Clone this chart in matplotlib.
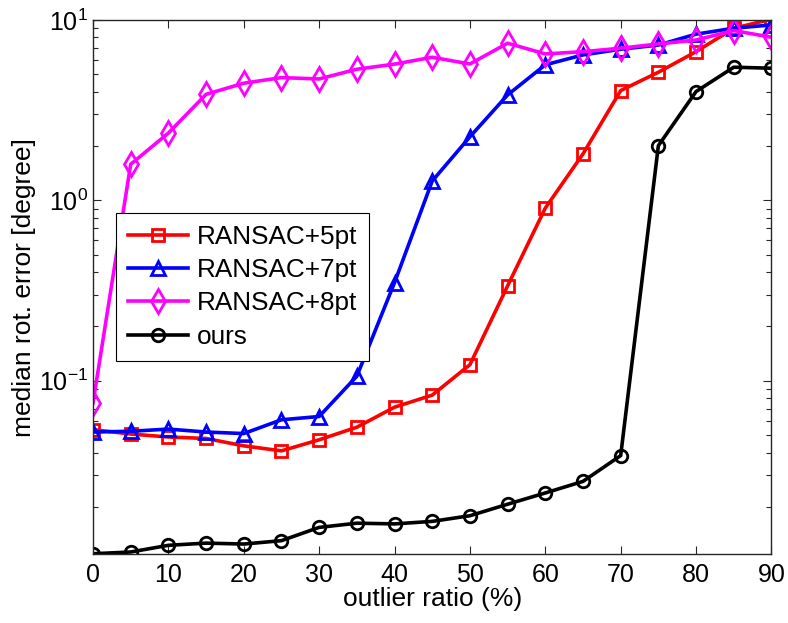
import matplotlib
matplotlib.use('Agg')
import matplotlib.pyplot as plt

plt.rcParams['font.family'] = ['Liberation Sans', 'DejaVu Sans']
plt.rcParams['mathtext.default'] = 'regular'

# outlier ratio (%)
ratio = [0, 5, 10, 15, 20, 25, 30, 35, 40, 45, 50, 55, 60, 65, 70, 75, 80, 85, 90]

# median rotation error [degree]
ransac5 = [0.0536, 0.0507, 0.0488, 0.0479, 0.0436, 0.0409, 0.0471, 0.0553, 0.0714, 0.0833,
           0.1228, 0.336, 0.906, 1.81, 4.06, 5.13, 6.67, 8.99, 10.1]
ransac7 = [0.052, 0.0525, 0.054, 0.052, 0.051, 0.0608, 0.0634, 0.106, 0.35, 1.28,
           2.25, 3.84, 5.64, 6.40, 6.88, 7.26, 8.34, 9.0, 9.38]
ransac8 = [0.0752, 1.585, 2.36, 3.87, 4.46, 4.79, 4.71, 5.33, 5.69, 6.21,
           5.70, 7.43, 6.48, 6.67, 6.97, 7.36, 7.74, 8.73, 8.02]
ours = [0.0110, 0.01125, 0.01225, 0.0126, 0.01245, 0.0130, 0.0154, 0.01625, 0.0161, 0.01663,
        0.01787, 0.0207, 0.0239, 0.0277, 0.0385, 2.01, 4.01, 5.47, 5.40]

fig = plt.figure(figsize=(7.88, 6.23), dpi=100)
ax = fig.add_axes([0.118, 0.110, 0.861, 0.858])

lw = 2.6
ax.plot(ratio, ransac5, '-s', color='red', lw=lw, ms=8, mew=2, mfc='none', label='RANSAC+5pt')
ax.plot(ratio, ransac7, '-^', color='blue', lw=lw, ms=10, mew=2, mfc='none', label='RANSAC+7pt')
ax.plot(ratio, ransac8, '-d', color='magenta', lw=lw, ms=12, mew=2, mfc='none', label='RANSAC+8pt')
ax.plot(ratio, ours, '-o', color='black', lw=lw, ms=9, mew=2, mfc='none', label='ours')

ax.set_yscale('log')
ax.set_xlim(0, 90)
ax.set_ylim(0.0109, 10)
ax.set_xticks(range(0, 91, 10))
ax.set_xlabel('outlier ratio (%)', fontsize=19, labelpad=0)
ax.set_ylabel('median rot. error [degree]', fontsize=19, labelpad=2)

ax.tick_params(which='both', direction='in', top=True, right=True, labelsize=18, colors='#262626')
ax.tick_params(axis='both', labelcolor='black')
ax.tick_params(which='major', length=6, width=0.8)
ax.tick_params(which='minor', length=3.5, width=0.8)
ax.tick_params(axis='x', pad=6)
for s in ax.spines.values():
    s.set_color('#262626')
    s.set_linewidth(1.0)

leg = ax.legend(loc='upper left', bbox_to_anchor=(0.034, 0.639), fontsize=18.8,
                fancybox=False, framealpha=1, edgecolor='black', handlelength=2.3,
                borderpad=0.45, labelspacing=0.36, handletextpad=0.35, borderaxespad=0)
leg.get_frame().set_linewidth(0.8)

fig.savefig('out.png', dpi=100)
